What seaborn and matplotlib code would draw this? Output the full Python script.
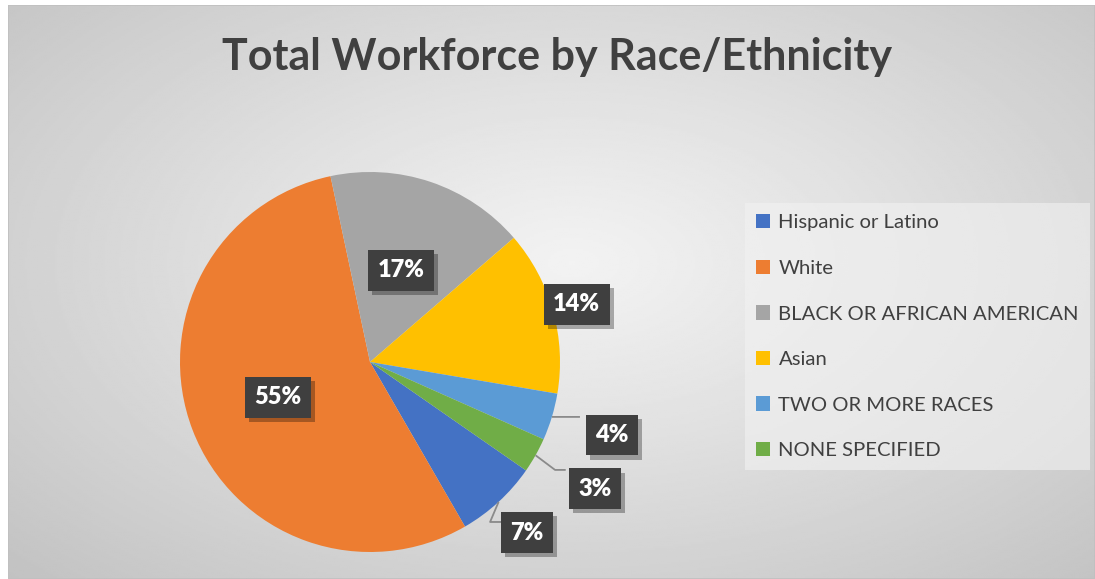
import numpy as np
import matplotlib
matplotlib.use("Agg")
import matplotlib.pyplot as plt
import seaborn as sns
from matplotlib import patheffects as pe

# ---- data ----
categories = ["Hispanic or Latino", "White", "BLACK OR AFRICAN AMERICAN",
              "Asian", "TWO OR MORE RACES", "NONE SPECIFIED"]
values = [7, 55, 17, 14, 4, 3]
pct_labels = ["7%", "55%", "17%", "14%", "4%", "3%"]

# ---- style / layout ----
colors = sns.color_palette(["#4472C4", "#ED7D31", "#A5A5A5", "#FFC000", "#5B9BD5", "#70AD47"])
label_r = [1.22, 0.52, 0.51, 1.13, 1.33, 1.36]
# leader lines (edge -> elbow -> box side) for outside labels, in pie units
leaders = {
    0: [(0.632, -0.842), (0.695, -0.842)],
    4: [(1.105, -0.289)],
    5: [(0.974, -0.568), (1.03, -0.568)],
}

sns.set_theme(style="white")
plt.rcParams['font.family'] = ['Lato', 'DejaVu Sans']

W, H = 1095, 579
fig = plt.figure(figsize=(W / 100, H / 100), dpi=100)
fig.patch.set_facecolor('white')

# background radial gradient
bg = fig.add_axes([8 / W, 0, 1 - 8 / W, 1 - 5 / H])
yy, xx = np.mgrid[0:1:290j, 0:1:545j]
d = np.sqrt(((xx - 0.52) / 0.52) ** 2 + ((yy - 0.45) / 0.55) ** 2) / np.sqrt(2)
val = 0.95 - 0.19 * np.clip(d, 0, 1.2) ** 1.1
bg.imshow(val, cmap='gray', vmin=0, vmax=1, aspect='auto', interpolation='bilinear')
bg.set_axis_off()
bg.add_patch(plt.Rectangle((0, 0), 1, 1, transform=bg.transAxes, fill=False,
                           ec='#c0c0c0', lw=1.2))

# pie
cx, cy, R = 370, 362, 190
ax = fig.add_axes([(cx - R) / W, (H - cy - R) / H, 2 * R / W, 2 * R / H])
ax.set_facecolor('none')
wedges, _ = ax.pie(values, colors=colors, startangle=-34.8, counterclock=False,
                   radius=1, wedgeprops=dict(linewidth=0))
ax.set_xlim(-1, 1)
ax.set_ylim(-1, 1)
ax.set_axis_off()

for i, (w, lab) in enumerate(zip(wedges, pct_labels)):
    mid = np.deg2rad((w.theta1 + w.theta2) / 2)
    x, y = label_r[i] * np.cos(mid), label_r[i] * np.sin(mid)
    if i in leaders:
        pts = [(np.cos(mid), np.sin(mid))] + leaders[i]
        ax.plot([p[0] for p in pts], [p[1] for p in pts], color='#8a8a8a', lw=1.3,
                clip_on=False, zorder=3, solid_capstyle='butt')
    t = ax.text(x, y, lab, ha='center', va='center', color='white', fontsize=17,
                fontweight='heavy', zorder=5,
                bbox=dict(boxstyle='square,pad=0.4', fc='#3f3f3f', ec='none'))
    t.get_bbox_patch().set_path_effects([
        pe.SimplePatchShadow(offset=(3, -3), shadow_rgbFace='black', alpha=0.3),
        pe.Normal()])

# title
fig.text(557 / W, 1 - 57 / H, "Total Workforce by Race/Ethnicity", ha='center',
         va='center', fontsize=31, fontweight='bold', color='#404040')

# legend
leg = fig.legend(wedges, categories, loc='upper left',
                 bbox_to_anchor=(745 / W, 1 - 203 / H), frameon=True, fontsize=14.6,
                 labelspacing=1.4, handlelength=0.7, handleheight=0.7,
                 handletextpad=0.4, borderpad=0.55, borderaxespad=0,
                 facecolor='#f2f2f2', edgecolor='none', framealpha=0.6, fancybox=False)
for txt in leg.get_texts():
    txt.set_color('#404040')

fig.savefig('out.png', dpi=100)
